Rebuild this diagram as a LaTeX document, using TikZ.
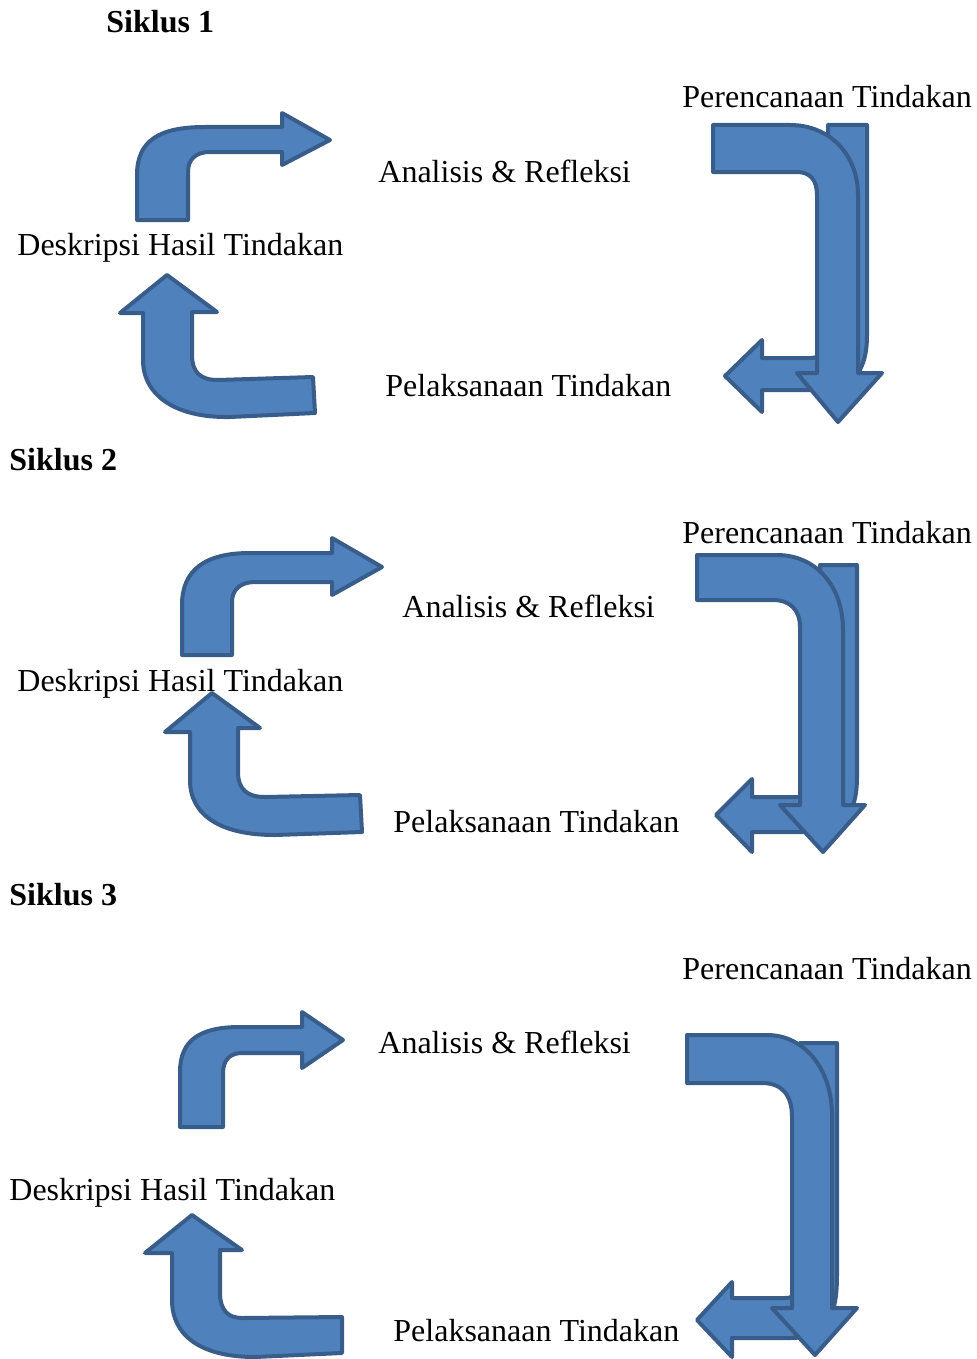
\documentclass[tikz,border=0pt]{standalone}
\usepackage{fontspec}
\setmainfont{Liberation Serif}
\definecolor{panahisi}{RGB}{79,129,189}
\definecolor{panahgaris}{RGB}{56,93,138}

\begin{document}
\begin{tikzpicture}[x=0.5pt,y=-0.5pt,
panah/.style={fill=panahisi,draw=panahgaris,line width=2pt,line join=round},
teks/.style={anchor=base west,inner sep=0pt,font=\fontsize{16}{19}\selectfont},
judul/.style={teks,font=\fontsize{16}{19}\selectfont\bfseries}
]
\useasboundingbox (0,0) rectangle (977,1359);

% Siklus 1
\node[judul] (s1) at (106,33) {Siklus 1};
\node[teks] (ren1) at (682,108) {Perencanaan Tindakan};
\node[teks] (ana1) at (378,182) {Analisis \& Refleksi};
\node[teks] (des1) at (17,255) {Deskripsi Hasil Tindakan};
\node[teks] (pel1) at (385,396) {Pelaksanaan Tindakan};

\draw[panah] (137,220) -- (137,175) .. controls (137,140) and (160,127) .. (205,127)
  -- (282,127) -- (282,113) -- (330,140) -- (282,165) -- (282,152) -- (210,152)
  .. controls (195,152) and (188,160) .. (188,172) -- (188,220) -- cycle;
\draw[panah] (167,275) -- (217,312) -- (192,312) -- (192,355)
  .. controls (192,372) and (200,380) .. (218,380) -- (313,377) -- (315,413) -- (230,417)
  .. controls (175,418) and (143,395) .. (143,360) -- (143,313) -- (120,313) -- cycle;
\draw[panah] (867,125) -- (867,335) .. controls (867,375) and (850,390) .. (815,390)
  -- (762,390) -- (762,412) -- (725,376) -- (762,340) -- (762,358) -- (810,358)
  .. controls (822,358) and (828,350) .. (828,338) -- (828,125) -- cycle;
\draw[panah] (713,125) -- (790,125) .. controls (830,125) and (858,155) .. (858,195)
  -- (858,373) -- (882,373) -- (838,422) -- (797,373) -- (817,373) -- (817,195)
  .. controls (817,180) and (810,172) .. (797,172) -- (713,172) -- cycle;

% Siklus 2
\node[judul] (s2) at (9,470) {Siklus 2};
\node[teks] (ren2) at (682,543) {Perencanaan Tindakan};
\node[teks] (ana2) at (402,617) {Analisis \& Refleksi};
\node[teks] (des2) at (17,691) {Deskripsi Hasil Tindakan};
\node[teks] (pel2) at (393,832) {Pelaksanaan Tindakan};

\draw[panah] (182,655) -- (182,605) .. controls (182,570) and (205,553) .. (250,553)
  -- (332,553) -- (332,538) -- (382,567) -- (332,595) -- (332,582) -- (255,582)
  .. controls (240,582) and (232,590) .. (232,602) -- (232,655) -- cycle;
\draw[panah] (212,693) -- (260,728) -- (238,728) -- (238,772)
  .. controls (238,790) and (248,797) .. (265,797) -- (360,795) -- (362,832) -- (275,835)
  .. controls (220,835) and (190,815) .. (190,780) -- (190,732) -- (165,732) -- cycle;
\draw[panah] (857,565) -- (857,777) .. controls (857,815) and (842,832) .. (810,832)
  -- (752,832) -- (752,852) -- (716,815) -- (752,779) -- (752,797) -- (805,797)
  .. controls (815,797) and (820,790) .. (820,780) -- (820,565) -- cycle;
\draw[panah] (697,555) -- (777,555) .. controls (815,555) and (843,585) .. (843,630)
  -- (843,805) -- (865,805) -- (823,852) -- (780,805) -- (800,805) -- (800,627)
  .. controls (800,610) and (790,600) .. (773,600) -- (697,600) -- cycle;

% Siklus 3
\node[judul] (s3) at (9,905) {Siklus 3};
\node[teks] (ren3) at (682,979) {Perencanaan Tindakan};
\node[teks] (ana3) at (378,1053) {Analisis \& Refleksi};
\node[teks] (des3) at (9,1200) {Deskripsi Hasil Tindakan};
\node[teks] (pel3) at (393,1341) {Pelaksanaan Tindakan};

\draw[panah] (180,1127) -- (180,1072) .. controls (180,1040) and (200,1027) .. (240,1027)
  -- (302,1027) -- (302,1012) -- (343,1040) -- (302,1068) -- (302,1053) -- (242,1053)
  .. controls (230,1053) and (223,1060) .. (223,1073) -- (223,1127) -- cycle;
\draw[panah] (192,1215) -- (242,1250) -- (220,1250) -- (220,1293)
  .. controls (220,1310) and (228,1318) .. (242,1318) -- (342,1317) -- (342,1353) -- (255,1357)
  .. controls (200,1357) and (172,1335) .. (172,1300) -- (172,1253) -- (145,1253) -- cycle;
\draw[panah] (837,1043) -- (837,1275) .. controls (837,1320) and (825,1338) .. (790,1338)
  -- (732,1338) -- (732,1357) -- (697,1320) -- (732,1282) -- (732,1298) -- (785,1298)
  .. controls (795,1298) and (800,1292) .. (800,1282) -- (800,1043) -- cycle;
\draw[panah] (687,1035) -- (767,1035) .. controls (805,1035) and (832,1070) .. (832,1115)
  -- (832,1308) -- (857,1308) -- (815,1355) -- (772,1308) -- (792,1308) -- (792,1117)
  .. controls (792,1095) and (782,1083) .. (762,1083) -- (687,1083) -- cycle;
\end{tikzpicture}
\end{document}
